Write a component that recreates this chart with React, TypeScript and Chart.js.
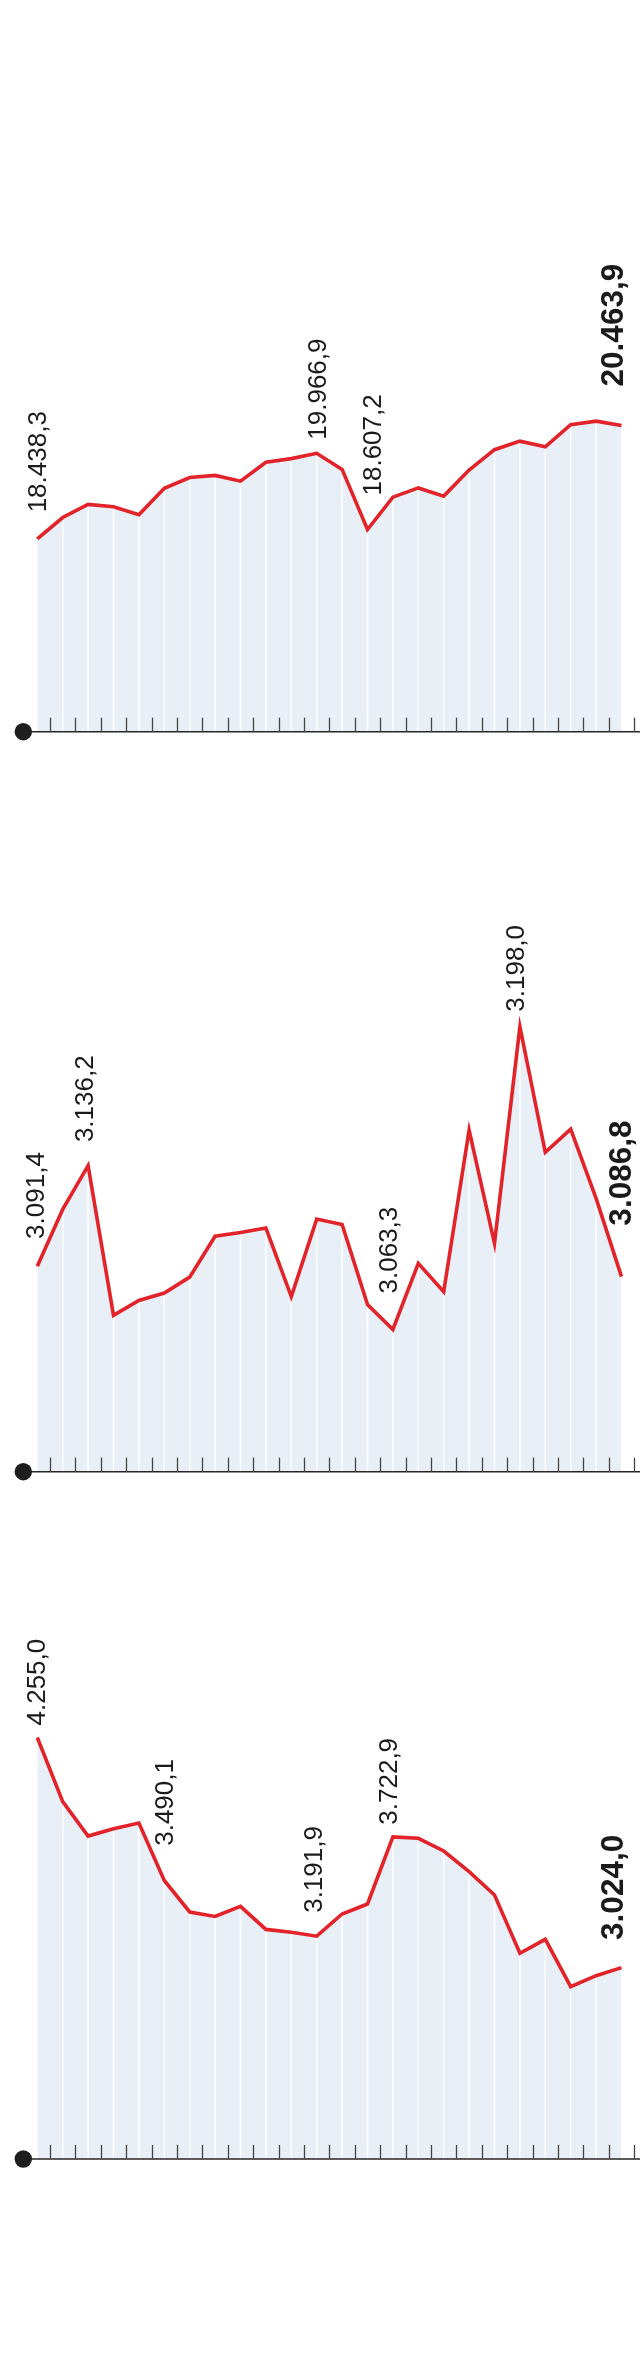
import React, { useEffect, useRef } from "react";
import { Chart, registerables } from "chart.js";

Chart.register(...registerables);

// ---------- data ----------
const CATEGORIES = [
  "1", "2", "3", "4", "5", "6", "7", "8", "9", "10", "11", "12",
  "13", "14", "15", "16", "17", "18", "19", "20", "21", "22", "23", "24",
];

const SERIES_TOP = [
  18438.3, 18821, 19056, 19012, 18871, 19343, 19534, 19572, 19470, 19808, 19872, 19966.9,
  19680, 18607.2, 19184, 19349, 19203, 19668, 20031, 20184, 20082, 20477, 20540, 20463.9,
];
const SERIES_MIDDLE = [
  3091.4, 3116.7, 3136.2, 3069.6, 3076.2, 3079.5, 3086.6, 3104.8, 3106.4, 3108.4, 3077.9, 3112.4,
  3110.0, 3074.4, 3063.3, 3092.7, 3080.1, 3152.0, 3101.6, 3198.0, 3142.1, 3152.4, 3121.6, 3086.8,
];
const SERIES_BOTTOM = [
  4255.0, 3911.6, 3727.8, 3767.4, 3797.2, 3490.1, 3321.5, 3297.7, 3351.2, 3228.3, 3212.8, 3191.9,
  3310.8, 3364.3, 3722.9, 3715.7, 3647.8, 3537.1, 3412.4, 3100.5, 3175.4, 2921.8, 2980.7, 3024.0,
];

// indices of the points that carry a value label
const LABELED_TOP = [0, 11, 13, 23];
const LABELED_MIDDLE = [0, 2, 14, 19, 23];
const LABELED_BOTTOM = [0, 5, 11, 14, 23];

// value-axis bounds
const RANGE_TOP = [15000, 27000];
const RANGE_MIDDLE = [3000, 3300];
const RANGE_BOTTOM = [2000, 5500];

// ---------- style / layout ----------
const RED = "#e3232a";
const FILL = "#e8eff7";
const INK = "#1a1a1a";
const FONT_REG = '26px "Liberation Sans", Arial, sans-serif';
const FONT_BOLD = 'bold 31.5px "Liberation Sans", Arial, sans-serif';

type Offset = { dx: number; dy: number };

type PanelProps = {
  values: number[];
  labeled: number[];
  offsets: Offset[];
  range: number[];
  top: number;
  height: number;
  plotTop: number;
  axisY: number;
};

function fmt(v: number): string {
  const [i, d] = v.toFixed(1).split(".");
  return i.replace(/\B(?=(\d{3})+(?!\d))/g, ".") + "," + d;
}

function Panel({ values, labeled, offsets, range, top, height, plotTop, axisY }: PanelProps) {
  const ref = useRef<HTMLCanvasElement | null>(null);

  useEffect(() => {
    const canvas = ref.current;
    if (!canvas) return;

    const overlay = {
      id: "overlay",
      afterDatasetDraw(chart: any, args: any) {
        if (args.index !== 1) return;
        const ctx = chart.ctx;
        const xs = chart.scales.x;
        const ys = chart.scales.y;
        const bottom = chart.chartArea.bottom;
        ctx.save();
        ctx.strokeStyle = "#ffffff";
        ctx.lineWidth = 1.5;
        for (let i = 1; i < values.length - 1; i++) {
          const x = xs.getPixelForValue(i);
          const y = ys.getPixelForValue(values[i]);
          ctx.beginPath();
          ctx.moveTo(x, bottom);
          ctx.lineTo(x, y);
          ctx.stroke();
        }
        ctx.restore();
      },
      afterDraw(chart: any) {
        const ctx = chart.ctx;
        const xs = chart.scales.x;
        const ys = chart.scales.y;
        const bottom = chart.chartArea.bottom;
        const half = (xs.getPixelForValue(1) - xs.getPixelForValue(0)) / 2;
        ctx.save();
        // axis line
        ctx.strokeStyle = "#262626";
        ctx.lineWidth = 1.5;
        ctx.beginPath();
        ctx.moveTo(23.3, bottom);
        ctx.lineTo(chart.width, bottom);
        ctx.stroke();
        // ticks
        ctx.strokeStyle = "#444444";
        ctx.lineWidth = 1.3;
        for (let i = 0; i < values.length; i++) {
          const x = Math.round(xs.getPixelForValue(i) + half) + 0.5;
          ctx.beginPath();
          ctx.moveTo(x, bottom);
          ctx.lineTo(x, bottom - 14);
          ctx.stroke();
        }
        // dot
        ctx.fillStyle = "#1e1e1e";
        ctx.beginPath();
        ctx.arc(23.3, bottom, 8.7, 0, Math.PI * 2);
        ctx.fill();
        // value labels
        ctx.fillStyle = INK;
        ctx.textAlign = "left";
        ctx.textBaseline = "alphabetic";
        labeled.forEach((idx, k) => {
          const off = offsets[k];
          const px = xs.getPixelForValue(idx);
          const py = ys.getPixelForValue(values[idx]);
          ctx.save();
          ctx.translate(px + off.dx, py - off.dy);
          ctx.rotate(-Math.PI / 2);
          ctx.font = idx === values.length - 1 ? FONT_BOLD : FONT_REG;
          ctx.fillText(fmt(values[idx]), 0, 0);
          ctx.restore();
        });
        ctx.restore();
      },
    };

    const chart = new Chart(canvas, {
      type: "line",
      data: {
        labels: CATEGORIES,
        datasets: [
          {
            data: values,
            borderColor: RED,
            borderWidth: 3.6,
            fill: false,
            pointRadius: 0,
            tension: 0,
            borderJoinStyle: "miter",
          },
          {
            data: values,
            borderWidth: 0,
            borderColor: "rgba(0,0,0,0)",
            backgroundColor: FILL,
            fill: "start",
            pointRadius: 0,
            tension: 0,
          },
        ],
      },
      options: {
        animation: false,
        responsive: false,
        events: [],
        layout: {
          padding: {
            left: 37.3,
            right: 18.5,
            top: plotTop - top,
            bottom: top + height - axisY,
          },
        },
        plugins: {
          legend: { display: false },
          tooltip: { enabled: false },
        },
        scales: {
          x: { display: false, offset: false },
          y: { display: false, min: range[0], max: range[1] },
        },
      },
      plugins: [overlay],
    } as any);

    return () => chart.destroy();
  }, []);

  return (
    <canvas
      ref={ref}
      width={640}
      height={height}
      style={{ position: "absolute", left: 0, top, width: 640, height, display: "block" }}
    />
  );
}

export default function App() {
  return (
    <div style={{ position: "absolute", left: 0, top: 0, width: 640, height: 2380, background: "#ffffff" }}>
      <Panel
        values={SERIES_TOP}
        labeled={LABELED_TOP}
        offsets={[
          { dx: 8.7, dy: 26.6 },
          { dx: 9, dy: 13.6 },
          { dx: 13, dy: 34 },
          { dx: 1.2, dy: 39 },
        ]}
        range={RANGE_TOP}
        top={0}
        height={770}
        plotTop={59.06}
        axisY={731.7}
      />
      <Panel
        values={SERIES_MIDDLE}
        labeled={LABELED_MIDDLE}
        offsets={[
          { dx: 7, dy: 27.4 },
          { dx: 4.5, dy: 23.5 },
          { dx: 4.4, dy: 36 },
          { dx: 4.4, dy: 15 },
          { dx: 9.2, dy: 51 },
        ]}
        range={RANGE_MIDDLE}
        top={770}
        height={730}
        plotTop={797.5}
        axisY={1471.7}
      />
      <Panel
        values={SERIES_BOTTOM}
        labeled={LABELED_BOTTOM}
        offsets={[
          { dx: 8, dy: 12 },
          { dx: 9, dy: 34.7 },
          { dx: 5.6, dy: 23.4 },
          { dx: 3.8, dy: 12.3 },
          { dx: 1.8, dy: 27.7 },
        ]}
        range={RANGE_BOTTOM}
        top={1500}
        height={880}
        plotTop={1504.8}
        axisY={2159}
      />
    </div>
  );
}
